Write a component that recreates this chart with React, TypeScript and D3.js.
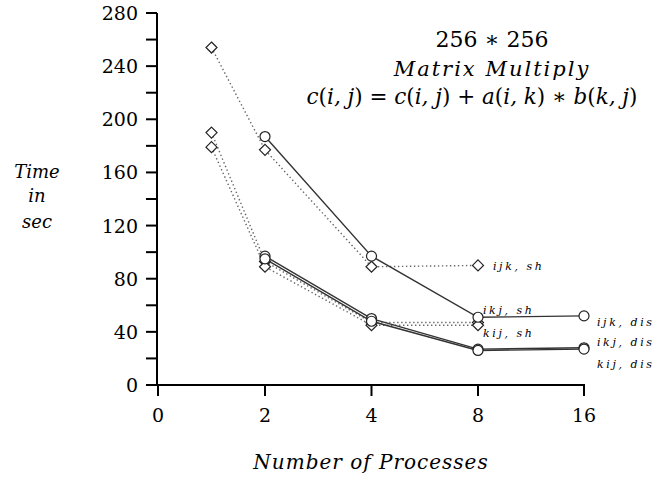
import React from 'react';
import * as d3 from 'd3';

// processes on the x axis
const xTicks = [0, 2, 4, 8, 16];
const yTicks = [0, 20, 40, 60, 80, 100, 120, 140, 160, 180, 200, 220, 240, 260, 280];

const ijkSh = [[1, 254], [2, 177], [4, 89], [8, 90]];
const ikjSh = [[1, 190], [2, 93], [4, 47], [8, 47]];
const kijSh = [[1, 179], [2, 89], [4, 45], [8, 45]];
const ijkDis = [[2, 187], [4, 97], [8, 51], [16, 52]];
const ikjDis = [[2, 97], [4, 50], [8, 27], [16, 28]];
const kijDis = [[2, 95], [4, 48], [8, 26], [16, 27]];

const series = [
  { name: 'ijk, sh', data: ijkSh, shared: true, lx: 493, ly: 270 },
  { name: 'ikj, sh', data: ikjSh, shared: true, lx: 483, ly: 314 },
  { name: 'kij, sh', data: kijSh, shared: true, lx: 483, ly: 337 },
  { name: 'ijk, dis', data: ijkDis, shared: false, lx: 597, ly: 326 },
  { name: 'ikj, dis', data: ikjDis, shared: false, lx: 597, ly: 346 },
  { name: 'kij, dis', data: kijDis, shared: false, lx: 597, ly: 368 },
];

const serif = { fontFamily: "'DejaVu Serif', serif" };

export default function App() {
  // piecewise scale: ticks evenly spaced, 1 sits halfway between 0 and 2
  const x = d3.scaleLinear().domain([0, 2, 4, 8, 16]).range([158, 265, 371.5, 478, 584]);
  const y = d3.scaleLinear().domain([0, 280]).range([385, 13]);
  const line = d3.line<number[]>().x(d => x(d[0])).y(d => y(d[1]));
  const diamond = (cx: number, cy: number) =>
    `M${cx},${cy - 5.5}L${cx + 5.5},${cy}L${cx},${cy + 5.5}L${cx - 5.5},${cy}Z`;
  const it = (s: string) => <tspan fontStyle="italic">{s}</tspan>;

  return (
    <svg width={655} height={477} style={{ position: 'absolute', left: 0, top: 0, background: '#fff' }}>
      {/* y axis */}
      <line x1={157} x2={157} y1={13} y2={385} stroke="#000" strokeWidth={2} />
      {yTicks.map(t => (
        <g key={t}>
          <line x1={146} x2={157} y1={y(t)} y2={y(t)} stroke="#000" strokeWidth={2} />
          {t % 40 === 0 && (
            <text x={138} y={y(t) + 7} textAnchor="end" style={serif} fontSize={19}>{t}</text>
          )}
        </g>
      ))}
      {/* x axis */}
      <line x1={146} x2={585} y1={385} y2={385} stroke="#000" strokeWidth={2} />
      {xTicks.map(t => (
        <g key={t}>
          <line x1={x(t)} x2={x(t)} y1={385} y2={396} stroke="#000" strokeWidth={2} />
          <text x={x(t)} y={422} textAnchor="middle" style={serif} fontSize={19}>{t}</text>
        </g>
      ))}
      <text x={371} y={469} textAnchor="middle" style={serif} fontSize={20} fontStyle="italic" letterSpacing={1}>
        Number of Processes
      </text>
      <g style={serif} fontSize={18} fontStyle="italic" textAnchor="middle">
        <text x={37} y={178}>Time</text>
        <text x={37} y={202}>in</text>
        <text x={37} y={228}>sec</text>
      </g>
      {/* title */}
      <g style={serif} fontSize={21} textAnchor="middle">
        <text x={492} y={47} fontSize={22}>256 ∗ 256</text>
        <text x={492} y={76} fontStyle="italic" letterSpacing={2}>Matrix Multiply</text>
        <text x={472} y={104} fontSize={21.5}>
          {it('c')}({it('i, j')}) = {it('c')}({it('i, j')}) + {it('a')}({it('i, k')}) ∗ {it('b')}({it('k, j')})
        </text>
      </g>
      {/* series */}
      {series.map(s => (
        <g key={s.name}>
          <path
            d={line(s.data) || ''}
            fill="none"
            stroke={s.shared ? '#666' : '#333'}
            strokeWidth={1.4}
            strokeDasharray={s.shared ? '1.4 2.6' : undefined}
          />
          {s.data.map((d, i) =>
            s.shared ? (
              <path key={i} d={diamond(x(d[0]), y(d[1]))} fill="#fff" stroke="#222" strokeWidth={1.2} />
            ) : (
              <circle key={i} cx={x(d[0])} cy={y(d[1])} r={5} fill="#fff" stroke="#222" strokeWidth={1.2} />
            )
          )}
          <text x={s.lx} y={s.ly} style={serif} fontSize={11} fontStyle="italic" letterSpacing={2.6}>
            {s.name}
          </text>
        </g>
      ))}
    </svg>
  );
}
